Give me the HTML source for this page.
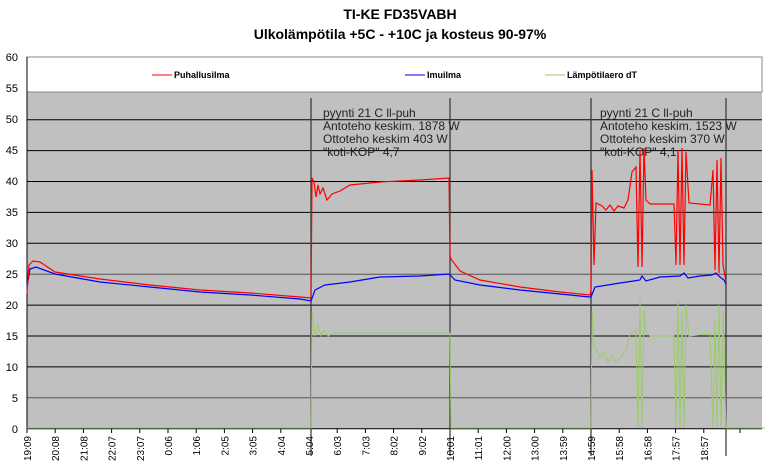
<!DOCTYPE html>
<html><head><meta charset="utf-8"><style>
body{margin:0;background:#fff;}
svg{display:block;font-family:"Liberation Sans",Arial,sans-serif;}
</style></head><body>
<svg width="772" height="472" viewBox="0 0 772 472">
<text x="400" y="19" text-anchor="middle" font-size="14" font-weight="bold" fill="#000">TI-KE FD35VABH</text>
<text x="400" y="39" text-anchor="middle" font-size="14" font-weight="bold" fill="#000">Ulkolämpötila  +5C - +10C ja kosteus 90-97%</text>
<!-- plot bg -->
<rect x="27" y="92" width="735" height="337" fill="#c0c0c0"/>
<rect x="27" y="57" width="735" height="35" fill="#fff" stroke="#888" stroke-width="1"/>
<!-- gridlines -->
<g stroke="#000" stroke-width="1">
<line x1="27" x2="762" y1="119.7" y2="119.7"/>
<line x1="27" x2="762" y1="150.6" y2="150.6"/>
<line x1="27" x2="762" y1="181.5" y2="181.5"/>
<line x1="27" x2="762" y1="212.4" y2="212.4"/>
<line x1="27" x2="762" y1="243.3" y2="243.3"/>
<line x1="27" x2="762" y1="274.2" y2="274.2" stroke="#555"/>
<line x1="27" x2="762" y1="305.1" y2="305.1"/>
<line x1="27" x2="762" y1="336" y2="336"/>
<line x1="27" x2="762" y1="366.9" y2="366.9"/>
<line x1="27" x2="762" y1="397.8" y2="397.8" stroke="#555"/>
</g>
<!-- axis -->
<line x1="27" x2="27" y1="57" y2="429" stroke="#000"/>
<line x1="27" x2="762" y1="428.7" y2="428.7" stroke="#000"/>
<g font-size="11" fill="#000" text-anchor="end">
<text x="18" y="61">60</text><text x="18" y="92">55</text><text x="18" y="123">50</text><text x="18" y="154">45</text><text x="18" y="185">40</text><text x="18" y="216">35</text><text x="18" y="247">30</text><text x="18" y="278">25</text><text x="18" y="309">20</text><text x="18" y="340">15</text><text x="18" y="371">10</text><text x="18" y="402">5</text><text x="18" y="433">0</text>
</g>
<!-- vertical markers -->
<g stroke="#333" stroke-width="1.2">
<line x1="311" x2="311" y1="98" y2="456"/>
<line x1="450" x2="450" y1="98" y2="456"/>
<line x1="591" x2="591" y1="98" y2="456"/>
<line x1="726" x2="726" y1="98" y2="456"/>
</g>
<!-- legend -->
<line x1="152" x2="172" y1="75" y2="75" stroke="#f00"/>
<text x="174" y="78" font-size="9" font-weight="bold" fill="#000">Puhallusilma</text>
<line x1="405" x2="425" y1="75" y2="75" stroke="#00f"/>
<text x="427" y="78" font-size="9" font-weight="bold" fill="#000">Imuilma</text>
<line x1="545" x2="565" y1="75" y2="75" stroke="#9c6"/>
<text x="567" y="78" font-size="9" font-weight="bold" fill="#000">Lämpötilaero dT</text>
<!-- annotations -->
<g font-size="12" fill="#222">
<text x="323" y="117">pyynti 21 C ll-puh</text>
<text x="323" y="130">Antoteho keskim. 1878 W</text>
<text x="323" y="143">Ottoteho keskim 403 W</text>
<text x="323" y="156">"koti-KOP" 4,7</text>
<text x="600" y="117">pyynti 21 C ll-puh</text>
<text x="600" y="130">Antoteho keskim. 1523 W</text>
<text x="600" y="143">Ottoteho keskim 370 W</text>
<text x="600" y="156">"koti-KOP" 4,1</text>
</g>
<!-- green -->
<polyline fill="none" stroke="#9c6" stroke-width="1" points="27,428 311,428 312,311 315,336 318,324 321,336 324,330 328,336 335,333 450,333 451,428 591,428 592,310 594,345 600,358 604,352 608,362 612,356 616,362 620,358 626,350 630,334 636,330 638,428 640,300 642,428 644,310 646,332 650,336 674,336 676,428 678,300 680,428 682,310 684,428 686,305 689,336 710,334 713,428 715,320 717,428 719,305 721,428 723,310 726,428 765,428"/>
<!-- blue -->
<polyline fill="none" stroke="#00f" stroke-width="1.2" points="27,287 30,269 36,267 55,274 100,282 150,287 200,292 250,295 300,299 311,301 315,290 325,285 350,282 380,277 420,276 449,274 455,280 480,285 520,290 560,294 590,297 591,297 595,287 620,283 640,280 642,276 646,281 660,277 680,276 684,273 688,278 700,276 712,275 716,273 720,277 724,280 726,284"/>
<!-- red -->
<polyline fill="none" stroke="#f00" stroke-width="1.2" points="27,293 29,265 33,261 40,262 55,272 100,279 150,285 200,290 250,293 300,297 311,298 312,178 314,182 316,197 318,185 320,194 323,188 327,200 332,194 340,191 350,185 380,182 420,180 449,178 450,256 451,259 460,271 480,280 520,287 560,292 590,295 591,290 592,170 594,265 596,203 602,206 606,210 610,205 614,211 618,206 624,208 628,200 632,172 636,167 638,267 640,150 642,267 644,148 646,200 650,204 674,204 676,265 678,150 680,265 682,148 684,265 686,152 689,203 710,205 713,170 715,270 717,160 719,273 721,158 723,265 726,282"/>
<!-- x ticks -->
<g stroke="#000">
<line x1="27" x2="27" y1="429" y2="433"/><line x1="55.2" x2="55.2" y1="429" y2="433"/><line x1="83.4" x2="83.4" y1="429" y2="433"/><line x1="111.6" x2="111.6" y1="429" y2="433"/><line x1="139.8" x2="139.8" y1="429" y2="433"/><line x1="168" x2="168" y1="429" y2="433"/><line x1="196.2" x2="196.2" y1="429" y2="433"/><line x1="224.4" x2="224.4" y1="429" y2="433"/><line x1="252.6" x2="252.6" y1="429" y2="433"/><line x1="280.8" x2="280.8" y1="429" y2="433"/><line x1="337.2" x2="337.2" y1="429" y2="433"/><line x1="365.4" x2="365.4" y1="429" y2="433"/><line x1="393.6" x2="393.6" y1="429" y2="433"/><line x1="421.8" x2="421.8" y1="429" y2="433"/><line x1="478.2" x2="478.2" y1="429" y2="433"/><line x1="506.4" x2="506.4" y1="429" y2="433"/><line x1="534.6" x2="534.6" y1="429" y2="433"/><line x1="562.8" x2="562.8" y1="429" y2="433"/><line x1="619.2" x2="619.2" y1="429" y2="433"/><line x1="647.4" x2="647.4" y1="429" y2="433"/><line x1="675.6" x2="675.6" y1="429" y2="433"/><line x1="703.8" x2="703.8" y1="429" y2="433"/><line x1="740" x2="740" y1="429" y2="433"/>
</g>
<g font-size="10" fill="#000" text-anchor="end">
<text transform="translate(31,436) rotate(-90)">19:09</text>
<text transform="translate(59.2,436) rotate(-90)">20:08</text>
<text transform="translate(87.4,436) rotate(-90)">21:08</text>
<text transform="translate(115.6,436) rotate(-90)">22:07</text>
<text transform="translate(143.8,436) rotate(-90)">23:07</text>
<text transform="translate(172,436) rotate(-90)">0:06</text>
<text transform="translate(200.2,436) rotate(-90)">1:06</text>
<text transform="translate(228.4,436) rotate(-90)">2:05</text>
<text transform="translate(256.6,436) rotate(-90)">3:05</text>
<text transform="translate(284.8,436) rotate(-90)">4:04</text>
<text transform="translate(313,436) rotate(-90)">5:04</text>
<text transform="translate(341.2,436) rotate(-90)">6:03</text>
<text transform="translate(369.4,436) rotate(-90)">7:03</text>
<text transform="translate(397.6,436) rotate(-90)">8:02</text>
<text transform="translate(425.8,436) rotate(-90)">9:02</text>
<text transform="translate(454,436) rotate(-90)">10:01</text>
<text transform="translate(482.2,436) rotate(-90)">11:01</text>
<text transform="translate(510.4,436) rotate(-90)">12:00</text>
<text transform="translate(538.6,436) rotate(-90)">13:00</text>
<text transform="translate(566.8,436) rotate(-90)">13:59</text>
<text transform="translate(595,436) rotate(-90)">14:59</text>
<text transform="translate(623.2,436) rotate(-90)">15:58</text>
<text transform="translate(651.4,436) rotate(-90)">16:58</text>
<text transform="translate(679.6,436) rotate(-90)">17:57</text>
<text transform="translate(707.8,436) rotate(-90)">18:57</text>
</g>
</svg>
</body></html>
